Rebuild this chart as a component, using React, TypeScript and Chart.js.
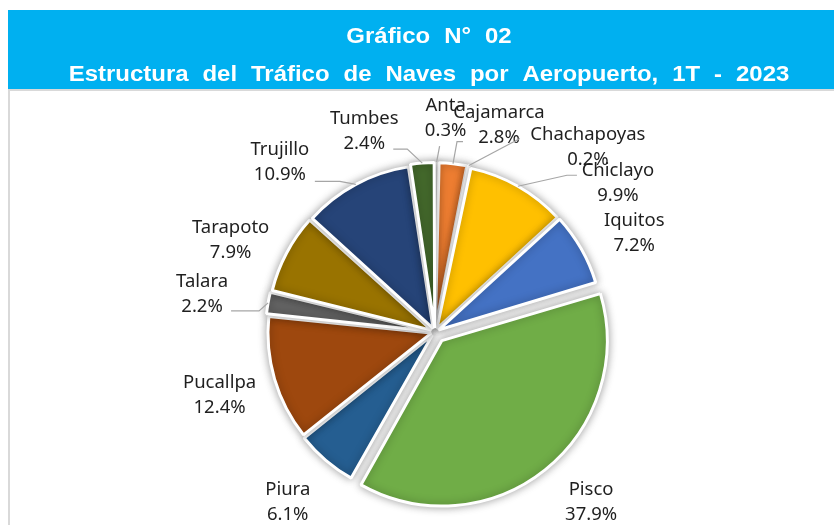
import React, { useEffect, useRef } from 'react';
import { Chart, registerables } from 'chart.js';

Chart.register(...registerables);

// ---- data ----
const airports = ['Anta', 'Cajamarca', 'Chachapoyas', 'Chiclayo', 'Iquitos', 'Pisco', 'Piura', 'Pucallpa', 'Talara', 'Tarapoto', 'Trujillo', 'Tumbes'];
const shares = [0.3, 2.8, 0.2, 9.9, 7.2, 37.9, 6.1, 12.4, 2.2, 7.9, 10.9, 2.4];
const titleLines = ['Gráfico N° 02', 'Estructura del Tráfico de Naves por Aeropuerto, 1T - 2023'];

// ---- styling ----
const sliceColors = ['#5B9BD5', '#ED7D31', '#A5A5A5', '#FFC000', '#4472C4', '#70AD47', '#255E91', '#9E480E', '#636363', '#997300', '#264478', '#43682B'];
// Chart.js translates each arc by offset/4 px
const sliceOffsets = [16, 16, 16, 16, 16, 44, 16, 16, 16, 16, 16, 16];
// label centre relative to the slice's outer edge point (at mid angle)
const labelShift: [number, number][] = [[9, -44], [46, -38], [119, -18], [100, -3], [53, -16], [46, 32], [-38, 42], [-55, 16], [-66, -9], [-56, -13], [-76, -22], [-58, -32]];
// leader line: attach point relative to label centre, plus horizontal elbow length
const leaders: ([number, number, number] | null)[] = [[-6, 28, 0], [-36, 16, -6], [-68, -9, 0], [-41, -8, -10], null, null, null, null, [29, 17, 28], null, [35, 19, 25], [29, 18, 14]];

const W = 834;
const H = 525;

function drawSpacedText(ctx: any, text: string, cx: number, baseline: number, sx: number, extraGap: number) {
  const words = text.split(' ');
  const spaceW = ctx.measureText(' ').width + extraGap;
  const widths = words.map((w) => ctx.measureText(w).width);
  const total = widths.reduce((a, b) => a + b, 0) + spaceW * (words.length - 1);
  ctx.save();
  ctx.translate(cx, baseline);
  ctx.scale(sx, 1);
  let x = -total / 2;
  ctx.textAlign = 'left';
  words.forEach((w, i) => {
    ctx.fillText(w, x, 0);
    x += widths[i] + spaceW;
  });
  ctx.restore();
}

const framePlugin = {
  id: 'frame',
  beforeDraw(chart: any) {
    const ctx = chart.ctx;
    ctx.save();
    ctx.fillStyle = '#FFFFFF';
    ctx.fillRect(0, 0, W, H);
    // plot area border
    ctx.strokeStyle = '#D9D9D9';
    ctx.lineWidth = 2;
    ctx.strokeRect(9, 90, 900, 600);
    // blue title band
    ctx.fillStyle = '#00B0F0';
    ctx.fillRect(8, 10, W - 8, 79);
    // title text
    ctx.fillStyle = '#FFFFFF';
    ctx.font = 'bold 21.4px "Liberation Sans", Arial, sans-serif';
    ctx.textBaseline = 'alphabetic';
    const baselines = [42.6, 80.6];
    titleLines.forEach((t, i) => drawSpacedText(ctx, t, 429, baselines[i], 1.12, 6.5));
    ctx.restore();
  },
};

const shadowPlugin = {
  id: 'softShadow',
  beforeDatasetsDraw(chart: any) {
    const ctx = chart.ctx;
    ctx.save();
    ctx.shadowColor = 'rgba(0,0,0,0.35)';
    ctx.shadowBlur = 9;
  },
  afterDatasetsDraw(chart: any) {
    chart.ctx.restore();
  },
};

const labelPlugin = {
  id: 'outLabels',
  afterDatasetsDraw(chart: any) {
    const ctx = chart.ctx;
    const meta = chart.getDatasetMeta(0);
    ctx.save();
    meta.data.forEach((arc: any, i: number) => {
      const { x, y, startAngle, endAngle, outerRadius } = arc.getProps(['x', 'y', 'startAngle', 'endAngle', 'outerRadius'], true);
      const mid = (startAngle + endAngle) / 2;
      const circ = endAngle - startAngle;
      const shift = sliceOffsets[i] / 4;
      const radiusFix = shift * (1 - Math.sin(Math.min(Math.PI, circ)));
      const rr = outerRadius + radiusFix + shift;
      const ex = x + Math.cos(mid) * rr;
      const ey = y + Math.sin(mid) * rr;
      const lx = ex + labelShift[i][0];
      const ly = ey + labelShift[i][1];
      const ld = leaders[i];
      if (ld) {
        const ax = lx + ld[0];
        const ay = ly + ld[1];
        ctx.beginPath();
        ctx.moveTo(ax, ay);
        ctx.lineTo(ax + ld[2], ay);
        ctx.lineTo(ex, ey);
        ctx.strokeStyle = '#A6A6A6';
        ctx.lineWidth = 1.2;
        ctx.stroke();
      }
      ctx.fillStyle = '#1F1F1F';
      ctx.font = '18.5px "Noto Sans", sans-serif';
      ctx.textAlign = 'center';
      ctx.textBaseline = 'middle';
      ctx.fillText(airports[i], lx, ly - 12.5);
      ctx.fillText(shares[i].toFixed(1) + '%', lx, ly + 12.5);
    });
    ctx.restore();
  },
};

export default function App() {
  const ref = useRef<HTMLCanvasElement | null>(null);
  useEffect(() => {
    document.body.style.margin = '0';
    if (!ref.current) return;
    const chart = new Chart(ref.current, {
      type: 'pie',
      data: {
        labels: airports,
        datasets: [
          {
            data: shares,
            backgroundColor: sliceColors,
            borderColor: '#FFFFFF',
            borderWidth: 3,
            offset: sliceOffsets,
          },
        ],
      },
      options: {
        responsive: false,
        animation: false,
        radius: 162,
        layout: { padding: { left: 236, right: 200, top: 160, bottom: 21 } },
        plugins: {
          legend: { display: false },
          tooltip: { enabled: false },
          title: { display: false },
        },
      } as any,
      plugins: [framePlugin, shadowPlugin, labelPlugin],
    });
    return () => chart.destroy();
  }, []);
  return (
    <div style={{ width: W, height: H }}>
      <canvas ref={ref} width={W} height={H} style={{ display: 'block' }} />
    </div>
  );
}
